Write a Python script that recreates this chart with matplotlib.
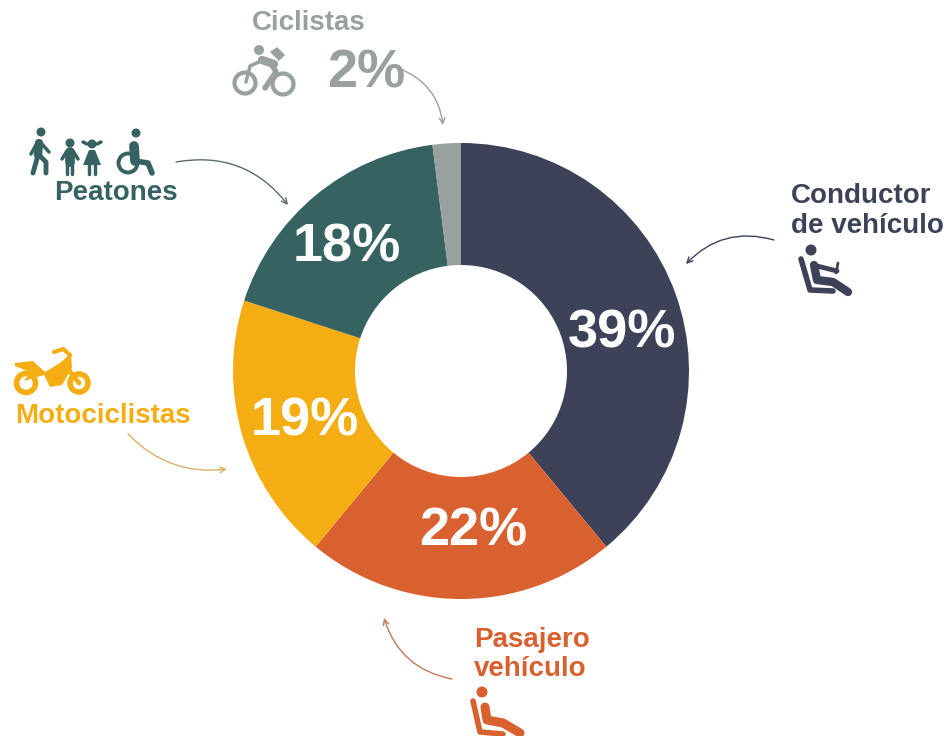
import matplotlib
matplotlib.use("Agg")
import matplotlib.pyplot as plt
from matplotlib.patches import Circle, Polygon, FancyArrowPatch

plt.rcParams['font.family'] = ['Liberation Sans', 'DejaVu Sans']

# ---------------- data ----------------
categories = ["Conductor de vehículo", "Pasajero vehículo", "Motociclistas", "Peatones", "Ciclistas"]
shares = [39, 22, 19, 18, 2]
labels = ["39%", "22%", "19%", "18%", "2%"]
NAVY, ORANGE, YELLOW, TEAL, GRAY = "#3d4258", "#d9602f", "#f4ae14", "#366362", "#98a19e"
colors = [NAVY, ORANGE, YELLOW, TEAL, GRAY]

fig = plt.figure(figsize=(9.53, 7.36), dpi=100)
ax = fig.add_axes([0, 0, 1, 1])

# y axis is flipped below, so image pixels can be used directly
ax.pie(shares, colors=colors, center=(461, 371), radius=228, startangle=-90, counterclock=True,
       wedgeprops=dict(width=122, linewidth=0), frame=True)
ax.set_xlim(0, 953); ax.set_ylim(736, 0)
ax.set_aspect("equal")
ax.axis("off")

# ---------------- labels ----------------
for s, x, y in zip(labels[:4], [622, 473, 305, 347], [333, 531, 421, 248]):
    ax.text(x, y, s, color="white", fontsize=39, fontweight="bold", ha="center", va="center")
ax.text(366, 74, labels[4], color=GRAY, fontsize=39, fontweight="bold", ha="center", va="center")

def lab(x, y, s, c, ha="left"):
    ax.text(x, y, s, color=c, fontsize=20, fontweight="bold", ha=ha, va="center")

lab(309, 23, "Ciclistas", GRAY, "center")
lab(116, 193, "Peatones", TEAL, "center")
lab(791, 196, "Conductor", NAVY)
lab(791, 226, "de vehículo", NAVY)
lab(474, 640, "Pasajero", ORANGE)
lab(474, 669, "vehículo", ORANGE)
lab(15, 416, "Motociclistas", YELLOW)

# ---------------- arrows ----------------
def arrow(a, b, rad, c):
    ax.add_patch(FancyArrowPatch(a, b, connectionstyle=f"arc3,rad={rad}", arrowstyle="->",
                                 mutation_scale=10, lw=1, color=c, shrinkA=0, shrinkB=0))

arrow((398, 68), (443, 125), -0.3, GRAY)
arrow((176, 162), (288, 205), -0.3, "#5a6b6a")
arrow((774, 240), (686, 264), 0.3, NAVY)
arrow((452, 679), (384, 618), -0.3, "#c4775a")
arrow((128, 434), (227, 469), 0.25, "#d9b263")

# ---------------- icons ----------------
def head(x, y, r, c):
    ax.add_patch(Circle((x, y), r, color=c, lw=0))

def ring(x, y, r, c, lw=3):
    ax.add_patch(Circle((x, y), r, fill=False, ec=c, lw=lw))

def stroke(pts, c, lw=4):
    ax.plot([p[0] for p in pts], [p[1] for p in pts], color=c, lw=lw,
            solid_capstyle="round", solid_joinstyle="round")

def poly(pts, c):
    ax.add_patch(Polygon(pts, closed=True, color=c, lw=0))

# cyclist
head(259, 50, 5, GRAY)
ring(245, 83, 10.5, GRAY); ring(283, 84, 10.5, GRAY)
stroke([(262, 60), (274, 64)], GRAY, 6)
stroke([(261, 61), (250, 66), (246, 82)], GRAY, 2.5)
stroke([(272, 65), (276, 72), (265, 88)], GRAY, 4)
poly([(270, 52), (277, 47), (285, 55), (279, 61)], GRAY)

# pedestrians
head(41, 132, 4.5, TEAL)
stroke([(39, 143), (38, 155)], TEAL, 6)
stroke([(38, 155), (33, 173)], TEAL, 3.5)
stroke([(39, 155), (46, 162), (46, 173)], TEAL, 3.5)
stroke([(37, 143), (31, 154)], TEAL, 2.5)
stroke([(41, 143), (49, 152)], TEAL, 2.5)

head(70, 143, 4.5, TEAL)
stroke([(70, 152), (70, 162)], TEAL, 7)
stroke([(67.5, 162), (67.5, 174)], TEAL, 2.5)
stroke([(72.5, 162), (72.5, 174)], TEAL, 2.5)
stroke([(67, 151), (62, 159)], TEAL, 2.5)
stroke([(73, 151), (78, 159)], TEAL, 2.5)

head(92, 144, 4.5, TEAL)
stroke([(83, 142), (87, 144)], TEAL, 2.5)
stroke([(97, 144), (101, 142)], TEAL, 2.5)
poly([(89, 150), (95, 150), (101, 165), (83, 165)], TEAL)
stroke([(89, 163), (89, 174)], TEAL, 2.5)
stroke([(95, 163), (95, 174)], TEAL, 2.5)

head(136, 133, 4.5, TEAL)
ring(128, 163, 9.5, TEAL, 2.8)
stroke([(134, 146), (135, 161)], TEAL, 7)
stroke([(135, 161), (148, 163), (152, 173)], TEAL, 4)

# driver
head(811, 250, 5.5, NAVY)
stroke([(801, 259), (810, 290), (833, 291)], NAVY, 4)
stroke([(814, 265), (817, 280), (833, 282), (848, 292)], NAVY, 6)
stroke([(817, 266), (837, 271)], NAVY, 3.5)
stroke([(838, 263), (836, 273)], NAVY, 2)

# passenger
head(482, 692, 5.5, ORANGE)
stroke([(473, 701), (480, 732), (503, 734)], ORANGE, 4)
stroke([(485, 707), (487, 720), (503, 723), (520, 733)], ORANGE, 6.5)

# motorcycle
ring(26, 383, 9.5, YELLOW, 4); ring(79, 383, 9, YELLOW, 4)
poly([(15, 363), (33, 361), (45, 372), (60, 363), (71, 353), (72, 368), (62, 385), (50, 387),
      (44, 375), (24, 381), (30, 372), (15, 366)], YELLOW)
stroke([(54, 352), (63, 349), (70, 355)], YELLOW, 3)
stroke([(67, 368), (79, 383)], YELLOW, 3.5)

fig.savefig("out.png", dpi=100)
